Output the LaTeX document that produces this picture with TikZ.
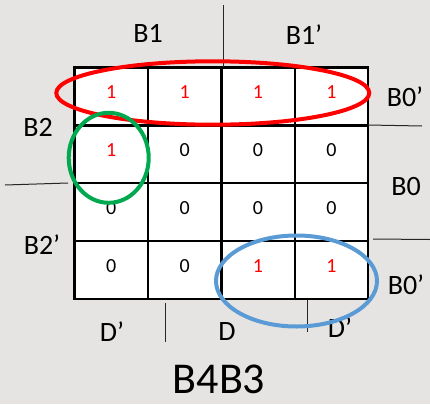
\documentclass[tikz,border=0pt]{standalone}
\usepackage{fontspec}
\setmainfont{Carlito}
\definecolor{bgc}{RGB}{230,228,226}
\definecolor{kred}{RGB}{255,0,0}
\definecolor{kgreen}{RGB}{0,168,80}
\definecolor{kblue}{RGB}{91,155,213}
\begin{document}
\begin{tikzpicture}[x=1pt,y=-1pt,
  cell/.style={draw=black,fill=white,line width=2.4pt,minimum width=73.4pt,minimum height=58pt,inner sep=0pt},
  digit/.style={font=\fontsize{20}{22}\selectfont,inner sep=0pt},
  lab/.style={font=\fontsize{28}{30}\selectfont,inner sep=0pt},
  divline/.style={line width=1pt,black!85},
  loop/.style={line width=4pt}]
\useasboundingbox (0,0) rectangle (430,404);
\fill[bgc] (0,0) rectangle (430,404);
% cells
\foreach \r/\c/\v/\col in {1/1/1/kred,1/2/1/kred,1/3/1/kred,1/4/1/kred,
  2/1/1/kred,2/2/0/black,2/3/0/black,2/4/0/black,
  3/1/0/black,3/2/0/black,3/3/0/black,3/4/0/black,
  4/1/0/black,4/2/0/black,4/3/1/kred,4/4/1/kred}{
  \node[cell] (c\r\c) at ({74.5+73.4*(\c-0.5)},{67.5+57.9*(\r-0.5)}) {};
}
\foreach \r/\c/\v/\col in {1/1/1/kred,1/2/1/kred,1/3/1/kred,1/4/1/kred,
  2/1/1/kred,2/2/0/black,2/3/0/black,2/4/0/black,
  3/1/0/black,3/2/0/black,3/3/0/black,3/4/0/black,
  4/1/0/black,4/2/0/black,4/3/1/kred,4/4/1/kred}{
  \node[digit,text=\col] (d\r\c) at ([yshift=4pt]c\r\c.center) {\v};
}
% labels
\node[lab] (b1) at (148,33) {B1};
\node[lab] (b1n) at (304,35) {B1’};
\node[lab] (b0a) at (405,97) {B0’};
\node[lab] (b0) at (406,187) {B0};
\node[lab] (b0b) at (406,285) {B0’};
\node[lab] (b2) at (38,127) {B2};
\node[lab] (b2n) at (42,245) {B2’};
\node[lab] (dn1) at (112,332) {D’};
\node[lab] (dd) at (227,332) {D};
\node[lab] (dn2) at (340,328) {D’};
\node[font=\fontsize{44}{46}\selectfont,inner sep=0pt] (title) at (219,379.5) {B4B3};
% divider lines
\coordinate (t1) at (223.7,5);
\coordinate (t1b) at (223.7,67);
\draw[divline] (t1) -- (t1b);
\coordinate (r1a) at (368,125);
\coordinate (r1b) at (422,126);
\draw[divline] (r1a) -- (r1b);
\coordinate (r2a) at (373,239);
\coordinate (r2b) at (430,239.5);
\draw[divline] (r2a) -- (r2b);
\coordinate (l1a) at (5,185);
\coordinate (l1b) at (68,183);
\draw[divline] (l1a) -- (l1b);
\coordinate (bt1) at (165,303);
\coordinate (bt1b) at (165,342);
\draw[divline] (bt1) -- (bt1b);
\coordinate (bt2) at (307,300);
\coordinate (bt2b) at (307,332);
\draw[divline] (bt2) -- (bt2b);
% loops
\draw[loop,kred] (212.8,93) ellipse [x radius=156.5pt,y radius=31.7pt];
\draw[loop,kgreen] (108.7,157.8) ellipse [x radius=40pt,y radius=45pt];
\draw[loop,kblue] (296.5,281) ellipse [x radius=80.5pt,y radius=45.5pt];
\end{tikzpicture}
\end{document}
